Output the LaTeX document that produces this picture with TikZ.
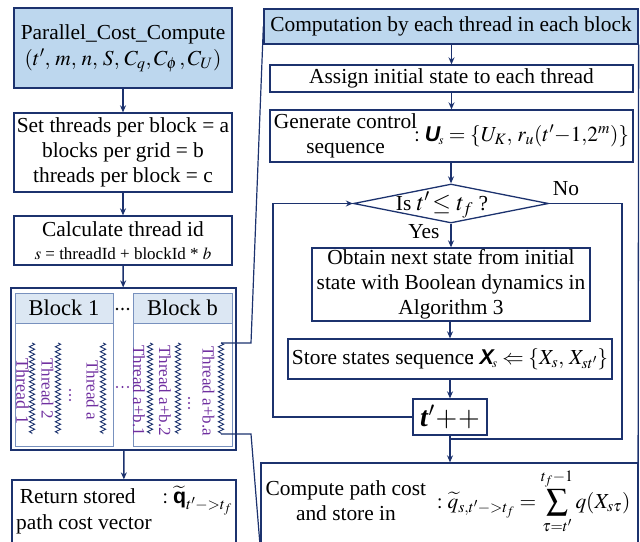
\documentclass[tikz,border=0pt]{standalone}
\usepackage{mathptmx}
\usepackage{amsmath}
\usepackage{bm}
\usepackage[no-math]{fontspec}
\setmainfont{Liberation Serif}
\newfontfamily\sansfnt{Liberation Sans}
\usetikzlibrary{arrows.meta,shapes.geometric,decorations.pathmorphing}

\definecolor{navy}{RGB}{28,50,110}
\definecolor{hdrblue}{RGB}{189,215,238}
\definecolor{blkhdr}{RGB}{220,231,243}
\definecolor{blkframe}{RGB}{120,145,190}
\definecolor{tpurple}{RGB}{112,48,160}

\newcommand{\bsU}{\text{\sansfnt\bfseries\itshape U}}
\newcommand{\bsX}{\text{\sansfnt\bfseries\itshape X}}
\newcommand{\bsq}{\text{\sansfnt\bfseries q}}

\begin{document}
\begin{tikzpicture}[x=1pt,y=-1pt,
  every node/.style={font=\fontsize{21.4}{25}\selectfont},
  nv/.style={draw=navy, line width=1.3pt},
  box/.style={nv, rectangle, inner sep=0pt, align=center},
  blk/.style={draw=blkframe, line width=1pt, rectangle, inner sep=0pt},
  arr/.style={draw=navy, line width=1.5pt, -{Stealth[length=7pt,width=6pt]}},
  ln/.style={draw=navy, line width=1.5pt},
  thr/.style={draw=navy, line width=0.9pt, decorate,
    decoration={zigzag, segment length=5pt, amplitude=2.6pt}},
  tlab/.style={text=tpurple, rotate=-90, anchor=west, inner sep=0pt,
    font=\fontsize{17}{17}\selectfont},
  dotp/.style={fill=tpurple},
]
\clip (0,0) rectangle (640,541);

% ---------------- left column ----------------
\node[box, fill=hdrblue, minimum width=218pt, minimum height=80pt] (pcc) at (123,48)
  {Parallel\_Cost\_Compute\\[1pt] $(t',\, m,\, n,\, S,\, C_q,C_\phi\,,C_{U})$};
\node[box, minimum width=218pt, minimum height=79pt] (cfg) at (123,152.5)
  {Set threads per block = a\\ blocks per grid = b\\ threads per block = c};
\node[box, minimum width=218pt, minimum height=49pt] (tid) at (123,240.5)
  {Calculate thread id\\[-2pt] {\fontsize{17}{17}\selectfont $s$ = threadId + blockId * $b$}};

% grid of blocks
\node[box, minimum width=225pt, minimum height=162pt] (grid) at (123.5,369) {};
\node[blk, minimum width=98pt, minimum height=153pt] (b1) at (64,369.5) {};
\node[blk, minimum width=99pt, minimum height=153pt] (bb) at (182.5,369.5) {};
\node[blk, fill=blkhdr, minimum width=98pt, minimum height=30pt, font=\fontsize{22.5}{22.5}\selectfont] (b1h) at (64,308) {Block 1};
\node[blk, fill=blkhdr, minimum width=99pt, minimum height=30pt, font=\fontsize{22.5}{22.5}\selectfont] (bbh) at (182.5,308) {Block b};
\foreach \x in {117,122.5,128} \fill[black] (\x,309) circle (1.3pt);

% threads of the blocks
\foreach \x/\n in {32/t1, 58/t2, 103/ta, 150/tb1, 178/tb2, 221/tba} {
  \coordinate (\n T) at (\x,343);
  \coordinate (\n B) at (\x,434);
  \draw[thr] (\n T) -- (\n B);
}
\node[tlab, font=\fontsize{18}{18}\selectfont] (l1) at (22.5,358) {Thread\hspace{6pt}1};
\node[tlab] (l2) at (47.5,358) {Thread 2};
\node[tlab] (la) at (92.5,360) {Thread a};
\node[tlab] (lb1) at (139,345) {Thread a+b.1};
\node[tlab] (lb2) at (165,345) {Thread a+b.2};
\node[tlab] (lba) at (208.5,346) {Thread a+b.a};
\foreach \y in {390,395,400} \fill[dotp] (70,\y) circle (1.2pt);
\foreach \y in {398,403,408} \fill[dotp] (189,\y) circle (1.2pt);
\foreach \x in {117,122.5,128} \fill[dotp] (\x,387) circle (1.2pt);

\node[box, minimum width=224pt, minimum height=80pt] (ret) at (124,520) {};
\node[inner sep=0pt, anchor=north west, align=left] (rettxt) at (16,486)
  {\begin{tabular}{@{}l@{}}\,Return stored\quad\ $:\widetilde{\bsq}_{t'->t_f}$\\[-3pt] path cost vector\end{tabular}};

\draw[arr] (pcc) -- (cfg);
\draw[arr] (cfg) -- (tid);
\draw[arr] (tid) -- (grid);
\draw[arr] (grid) -- (ret);

% ---------------- right panel ----------------
\node[box, fill=hdrblue, minimum width=374pt, minimum height=35pt] (hdr) at (451,26.5)
  {Computation by each thread in each block};
\coordinate (frameB) at (638,545);
\draw[nv] (hdr.south east) -- (frameB);

\node[box, minimum width=363pt, minimum height=27pt] (asg) at (451.5,78.5)
  {Assign initial state to each thread};
\node[box, minimum width=363pt, minimum height=52pt] (gen) at (451.5,136)
  {\begin{tabular}{@{}c@{}}Generate control\\ sequence\end{tabular}\hspace{-3pt}$:\bsU_{\!\scriptscriptstyle s}=\{U_{K},\, r_u(t'{-}1{,}2^m)\}$};
\node[diamond, nv, minimum width=195pt, minimum height=39pt, inner sep=0pt] (dia) at (451,203.5) {};
\node[inner sep=0pt] (diatxt) at (442,205) {Is {\fontsize{24}{24}\selectfont $t'\!\le t_f$} ?};
\node[inner sep=0pt] (yes) at (424,232) {Yes};
\node[inner sep=0pt] (no) at (566,189) {No};
\node[box, minimum width=278pt, minimum height=73pt] (obt) at (451,284.5)
  {Obtain next state from initial\\ state with Boolean dynamics in\\ Algorithm 3};
\node[box, minimum width=324pt, minimum height=40pt] (sto) at (450,359)
  {Store states sequence\hspace{-5pt}$:\bsX_{\!\scriptscriptstyle s}\Leftarrow\{X_s,\, X_{st'}\}$};
\node[box, minimum width=74pt, minimum height=36pt, font=\fontsize{28}{28}\selectfont] (tpp) at (450,417)
  {\textbf{\textit{t}}$'\!+\!+$};
\node[box, minimum width=377pt, minimum height=137pt] (cmp) at (449.5,531.5) {};
\node[inner sep=0pt] (cmptxt) at (448,501)
  {\begin{tabular}{@{}c@{}}Compute path cost\\ and store in\end{tabular}\ \ $:\widetilde{q}_{s,t'->t_f}=\displaystyle\sum_{\tau=t'}^{t_f-1} q(X_{s\tau})$};

\draw[arr] (hdr.south -| asg) -- (asg);
\draw[arr] (asg) -- (gen);
\draw[arr] (gen.south -| dia) -- (dia.north);
\draw[arr] (dia.south) -- (obt.north -| dia);
\draw[arr] (obt.south -| sto) -- (sto);
\draw[arr] (sto) -- (tpp);
\draw[arr] (tpp) -- (cmp.north -| tpp);

% loop edges
\coordinate (noC) at (622,203.5);
\coordinate (noD) at (622,439);
\coordinate (backL) at (273,417);
\draw[ln] (dia.east) -- (noC) -- (noD) -- (noD -| tpp);
\draw[arr] (tpp.west) -- (backL) |- (dia.west);

% zoom-out connectors from the last thread
\coordinate (zt) at (251,343);
\coordinate (zb) at (251,434);
\coordinate (zbend) at (260,545);
\draw[draw=navy, line width=1.2pt] (tbaT) -- (zt) -- (hdr.west);
\draw[draw=navy, line width=1.2pt] (tbaB) -- (zb) -- (zbend);
\end{tikzpicture}
\end{document}
